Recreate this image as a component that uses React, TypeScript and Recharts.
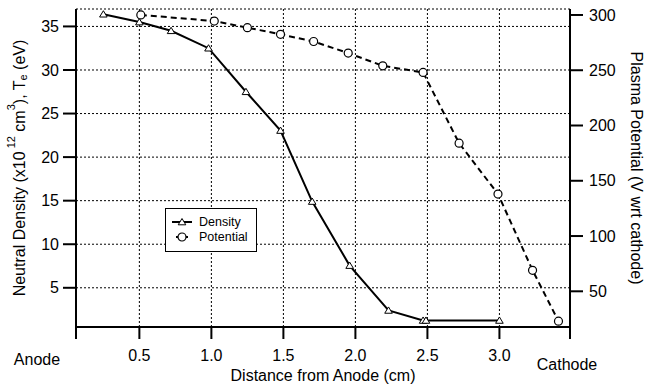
import React from 'react';
import {
  LineChart, Line, XAxis, YAxis, CartesianGrid,
} from 'recharts';

// distance from anode (cm) and values
const densityX = [0.25, 0.5, 0.72, 0.98, 1.24, 1.48, 1.7, 1.96, 2.23, 2.47, 2.49, 3.0];
const densityY = [36.4, 35.5, 34.5, 32.5, 27.5, 23.05, 14.9, 7.55, 2.4, 1.25, 1.25, 1.25];
const potentialX = [0.51, 1.02, 1.25, 1.48, 1.71, 1.95, 2.19, 2.47, 2.72, 2.99, 3.23, 3.41];
const potentialY = [300, 294.5, 288.5, 282.5, 276, 265.5, 254, 248, 184, 138, 69, 23];

const X_MIN = 0.06;
const X_MAX = 3.49;
const xTicks = [X_MIN, 0.5, 1.0, 1.5, 2.0, 2.5, 3.0, X_MAX];
const leftTicks = [5, 10, 15, 20, 25, 30, 35];
const rightTicks = [50, 100, 150, 200, 250, 300];

const densityData = densityX.map((x, i) => ({ x, density: densityY[i] }));
const potentialData = potentialX.map((x, i) => ({ x, potential: potentialY[i] }));

const FONT = '"Liberation Sans", Arial, Helvetica, sans-serif';
const FS = 16;

const XTick = (props: any) => {
  const { x, y, payload } = props;
  const v = payload.value;
  if (v === X_MIN) {
    return <text x={x - 39} y={y + 24} textAnchor="middle" fontFamily={FONT} fontSize={FS} fill="#000">Anode</text>;
  }
  if (v === X_MAX) {
    return <text x={x - 3} y={y + 29} textAnchor="middle" fontFamily={FONT} fontSize={FS} fill="#000">Cathode</text>;
  }
  return <text x={x} y={y + 20} textAnchor="middle" fontFamily={FONT} fontSize={FS} fill="#000">{v.toFixed(1)}</text>;
};

const Triangle = (props: any) => {
  const { cx, cy } = props;
  if (cx == null || cy == null) return null;
  return <path d={`M${cx},${cy - 3.5} L${cx + 3.8},${cy + 2.8} L${cx - 3.8},${cy + 2.8} Z`} fill="#fff" stroke="#000" strokeWidth={1} />;
};

const Circle = (props: any) => {
  const { cx, cy } = props;
  if (cx == null || cy == null) return null;
  return <circle cx={cx} cy={cy} r={4} fill="#fff" stroke="#000" strokeWidth={1.2} />;
};

const LeftLabel = (props: any) => {
  const { viewBox } = props;
  const cy = viewBox.y + viewBox.height / 2;
  const cx = 19;
  return (
    <text x={cx} y={cy} transform={`rotate(-90 ${cx} ${cy})`} textAnchor="middle" dominantBaseline="central"
      fontFamily={FONT} fontSize={FS} fill="#000">
      Neutral Density (x10<tspan dy={-8} fontSize={11}> 12</tspan>
      <tspan dy={8}> cm</tspan><tspan dy={-8} fontSize={11}>3</tspan>
      <tspan dy={8}>), T</tspan><tspan dy={4} fontSize={11}>e</tspan>
      <tspan dy={-4}> (eV)</tspan>
    </text>
  );
};

const RightLabel = (props: any) => {
  const { viewBox } = props;
  const cy = viewBox.y + viewBox.height / 2;
  const cx = 636;
  return (
    <text x={cx} y={cy} transform={`rotate(90 ${cx} ${cy})`} textAnchor="middle" dominantBaseline="central"
      fontFamily={FONT} fontSize={FS} fill="#000">
      Plasma Potential (V wrt cathode)
    </text>
  );
};

const LegendBox = () => (
  <div style={{
    position: 'absolute', left: 165, top: 208,
    border: '1.5px solid #000', background: '#fff', width: 92, height: 44,
    boxSizing: 'border-box', fontFamily: FONT, fontSize: 12.5, color: '#000', padding: '5px 0 0 5px',
  }}>
    <div style={{ display: 'flex', alignItems: 'center', height: 15 }}>
      <svg width={22} height={12}>
        <line x1={1} y1={6} x2={21} y2={6} stroke="#000" strokeWidth={2} />
        <path d="M11,2.5 L14.8,8.8 L7.2,8.8 Z" fill="#fff" stroke="#000" strokeWidth={1} />
      </svg>
      <span style={{ marginLeft: 6 }}>Density</span>
    </div>
    <div style={{ display: 'flex', alignItems: 'center', height: 15 }}>
      <svg width={22} height={12}>
        <line x1={5} y1={6} x2={17} y2={6} stroke="#000" strokeWidth={2} />
        <circle cx={11} cy={6} r={4} fill="#fff" stroke="#000" strokeWidth={1.2} />
      </svg>
      <span style={{ marginLeft: 6 }}>Potential</span>
    </div>
  </div>
);

export default function App() {
  return (
    <div style={{ position: 'absolute', left: 0, top: 0, width: 646, height: 389, background: '#fff' }}>
      <LineChart width={646} height={389} margin={{ top: 9, right: 0, bottom: 0, left: 0 }}>
        <CartesianGrid xAxisId="bottom" yAxisId="left" stroke="#000" strokeWidth={1} strokeDasharray="2 2"
          verticalValues={[0.5, 1, 1.5, 2, 2.5, 3]} />
        <XAxis xAxisId="top" orientation="top" type="number" dataKey="x" domain={[X_MIN, X_MAX]}
          height={0} tick={false} tickLine={false} axisLine={{ stroke: '#000', strokeWidth: 2 }} />
        <XAxis xAxisId="bottom" type="number" dataKey="x" domain={[X_MIN, X_MAX]} ticks={xTicks}
          allowDataOverflow height={62} tickSize={12} tick={<XTick />} interval={0}
          axisLine={{ stroke: '#000', strokeWidth: 2 }} tickLine={{ stroke: '#000', strokeWidth: 2 }}
          label={{ value: 'Distance from Anode (cm)', position: 'insideBottom', offset: 8, fontFamily: FONT, fontSize: FS, fill: '#000' }} />
        <YAxis yAxisId="left" orientation="left" type="number" domain={[0.5, 37]} ticks={leftTicks}
          allowDataOverflow width={76} tickSize={13} tickMargin={4} interval={0}
          tick={{ fontFamily: FONT, fontSize: FS, fill: '#000' }}
          axisLine={{ stroke: '#000', strokeWidth: 2 }} tickLine={{ stroke: '#000', strokeWidth: 2 }}
          label={<LeftLabel />} />
        <YAxis yAxisId="right" orientation="right" type="number" domain={[17.7, 305.4]} ticks={rightTicks}
          allowDataOverflow width={76} tickSize={13} tickMargin={6} interval={0}
          tick={{ fontFamily: FONT, fontSize: FS, fill: '#000' }}
          axisLine={{ stroke: '#000', strokeWidth: 2 }} tickLine={{ stroke: '#000', strokeWidth: 2 }}
          label={<RightLabel />} />
        <Line xAxisId="bottom" yAxisId="left" data={densityData} dataKey="density" name="Density"
          type="linear" stroke="#000" strokeWidth={2} dot={<Triangle />} activeDot={false}
          isAnimationActive={false} />
        <Line xAxisId="bottom" yAxisId="right" data={potentialData} dataKey="potential" name="Potential"
          type="linear" stroke="#000" strokeWidth={2} strokeDasharray="6 4" dot={<Circle />} activeDot={false}
          isAnimationActive={false} />
      </LineChart>
      <LegendBox />
    </div>
  );
}
